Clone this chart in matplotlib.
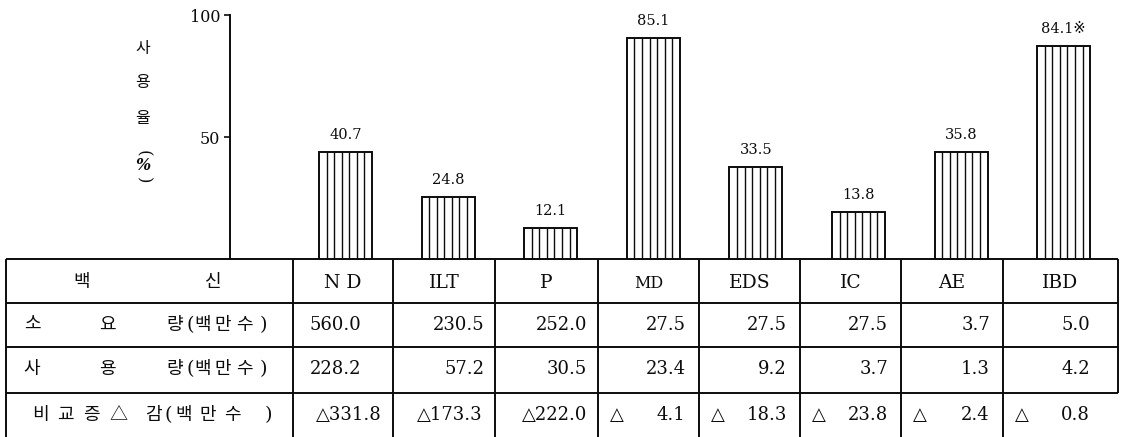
import matplotlib
matplotlib.use("Agg")
import matplotlib.pyplot as plt

# ---------------- data ----------------
categories = ['ND', 'ILT', 'P', 'MD', 'EDS', 'IC', 'AE', 'IBD']
header_labels = ['N D', 'ILT', 'P', 'MD', 'EDS', 'IC', 'AE', 'IBD']
rate_labels = ['40.7', '24.8', '12.1', '85.1', '33.5', '13.8', '35.8', '84.1※']
# bar heights as drawn in the picture (%)
bar_heights = [43.9, 25.4, 12.7, 90.6, 37.7, 19.3, 43.9, 87.3]
required = [560.0, 230.5, 252.0, 27.5, 27.5, 27.5, 3.7, 5.0]   # 소요량(백만수)
used = [228.2, 57.2, 30.5, 23.4, 9.2, 3.7, 1.3, 4.2]            # 사용량(백만수)
decrease = [331.8, 173.3, 222.0, 4.1, 18.3, 23.8, 2.4, 0.8]     # 비교증△감(백만수)
yticks = [50, 100]
ytick_labels = ['50', '100']

# ---------------- layout (pixels) ----------------
W, H = 1121, 437
DPI = 100
ink = '#0c0c0c'
SERIF = ['DejaVu Serif', 'DejaVu Sans', 'Noto Sans CJK KR']
KR = ['Noto Sans CJK KR', 'DejaVu Sans']

fig = plt.figure(figsize=(W / DPI, H / DPI), dpi=DPI)
fig.patch.set_facecolor('white')

# overlay in pixel coordinates for the table
ov = fig.add_axes([0, 0, 1, 1], zorder=0)
ov.set_xlim(0, W)
ov.set_ylim(H, 0)
ov.axis('off')

axis_x = 230
base_y = 259
top_y = 15
first_center = 345.5
step = 102.6
bar_w = 53 / step

ax = fig.add_axes([axis_x / W, (H - base_y) / H, (W - axis_x) / W, (base_y - top_y) / H], zorder=1)
ax.patch.set_alpha(0)
ax.set_xlim((axis_x - first_center) / step, (W - first_center) / step)
ax.set_ylim(0, 100)
for s in ['top', 'right', 'bottom']:
    ax.spines[s].set_visible(False)
ax.spines['left'].set_linewidth(1.4)
ax.spines['left'].set_color(ink)
ax.set_xticks([])
ax.set_yticks(yticks)
ax.set_yticklabels(ytick_labels, fontsize=11.5, family=SERIF, color=ink)
ax.tick_params(axis='y', direction='out', length=4, width=1.2, pad=3, colors=ink)

xs = list(range(len(categories)))
ax.bar(xs, bar_heights, width=bar_w, facecolor='white', edgecolor=ink,
       linewidth=1.4, zorder=3, clip_on=False)
nstripe = 7
for x, h in zip(xs, bar_heights):
    left = x - bar_w / 2
    for k in range(1, nstripe):
        ax.vlines(left + bar_w * k / nstripe, 0, h, color=ink, linewidth=1.0, zorder=4)
for x, h, lab in zip(xs, bar_heights, rate_labels):
    ax.annotate(lab, (x, h), xytext=(0, 7), textcoords='offset points',
                ha='center', va='bottom', fontsize=10.5, family=SERIF, color=ink)

# y label (vertical, stacked)
ylab_x = 143
for ch, yy in zip(['사', '용', '율'], [49, 83, 118]):
    ov.text(ylab_x, yy, ch, ha='center', va='center', fontsize=11.5, family=KR, color=ink)
ov.text(ylab_x, 153, '(', ha='center', va='center', fontsize=12, family=SERIF, color=ink, rotation=-90)
ov.text(ylab_x, 165, '%', ha='center', va='center', fontsize=11.5, family=SERIF, color=ink,
        style='italic', weight='bold')
ov.text(ylab_x, 180, ')', ha='center', va='center', fontsize=12, family=SERIF, color=ink, rotation=-90)

# ---------------- table ----------------
col_edges = [6, 293, 393, 495, 598, 699, 800, 901, 1003, 1118]
row_edges = [259, 303, 347, 393, H]
lw = 1.4
ov.hlines(row_edges[:4], col_edges[0], col_edges[-1], color=ink, linewidth=lw)
for i, cx in enumerate(col_edges):
    y_end = 393 if i == len(col_edges) - 1 else H
    ov.vlines(cx, row_edges[0], y_end, color=ink, linewidth=lw)

row_y = [282, 325, 369, 415]

# header row
ov.text(82, row_y[0], '백', ha='center', va='center', fontsize=13, family=KR, color=ink)
ov.text(213, row_y[0], '신', ha='center', va='center', fontsize=13, family=KR, color=ink)
for j, lab in enumerate(header_labels):
    cx = (col_edges[j + 1] + col_edges[j + 2]) / 2
    fs = 11.5 if lab == 'MD' else 13.5
    ov.text(cx, row_y[0] + 1, lab, ha='center', va='center', fontsize=fs, family=SERIF, color=ink)

# row labels
unit_chars = ['(', '백', '만', '수', ')']
def row_label(y, chars, centers):
    for ch, cx in zip(chars, centers):
        fam = SERIF if ch in '()' else KR
        fs = 14 if ch in '()' else 13
        ov.text(cx, y, ch, ha='center', va='center', fontsize=fs, family=fam, color=ink)

row_label(row_y[1], ['소', '요', '량'] + unit_chars, [32, 107, 175, 190, 203, 223, 244, 263])
row_label(row_y[2], ['사', '용', '량'] + unit_chars, [32, 107, 175, 190, 203, 223, 244, 263])
row_label(row_y[3], ['비', '교', '증', '△', '감'] + unit_chars,
          [40, 65, 91, 118, 153, 168, 184, 208, 232, 268])

# values
pads_r12 = [32, 11, 11, 13, 13, 13, 13, 28]
pads_r3 = [11, 12, 11, 14, 13, 13, 14, 28]
for j in range(len(categories)):
    cl, cr = col_edges[j + 1], col_edges[j + 2]
    ov.text(cr - pads_r12[j], row_y[1], f'{required[j]:.1f}', ha='right', va='center',
            fontsize=13, family=SERIF, color=ink)
    ov.text(cr - pads_r12[j], row_y[2], f'{used[j]:.1f}', ha='right', va='center',
            fontsize=13, family=SERIF, color=ink)
    v = decrease[j]
    if v >= 100:
        ov.text(cr - pads_r3[j], row_y[3], f'△{v:.1f}', ha='right', va='center',
                fontsize=13, family=SERIF, color=ink)
    else:
        ov.text(cl + 12, row_y[3], '△', ha='left', va='center', fontsize=13,
                family=SERIF, color=ink)
        ov.text(cr - pads_r3[j], row_y[3], f'{v:.1f}', ha='right', va='center',
                fontsize=13, family=SERIF, color=ink)

fig.savefig('out.png', dpi=DPI, facecolor='white')
